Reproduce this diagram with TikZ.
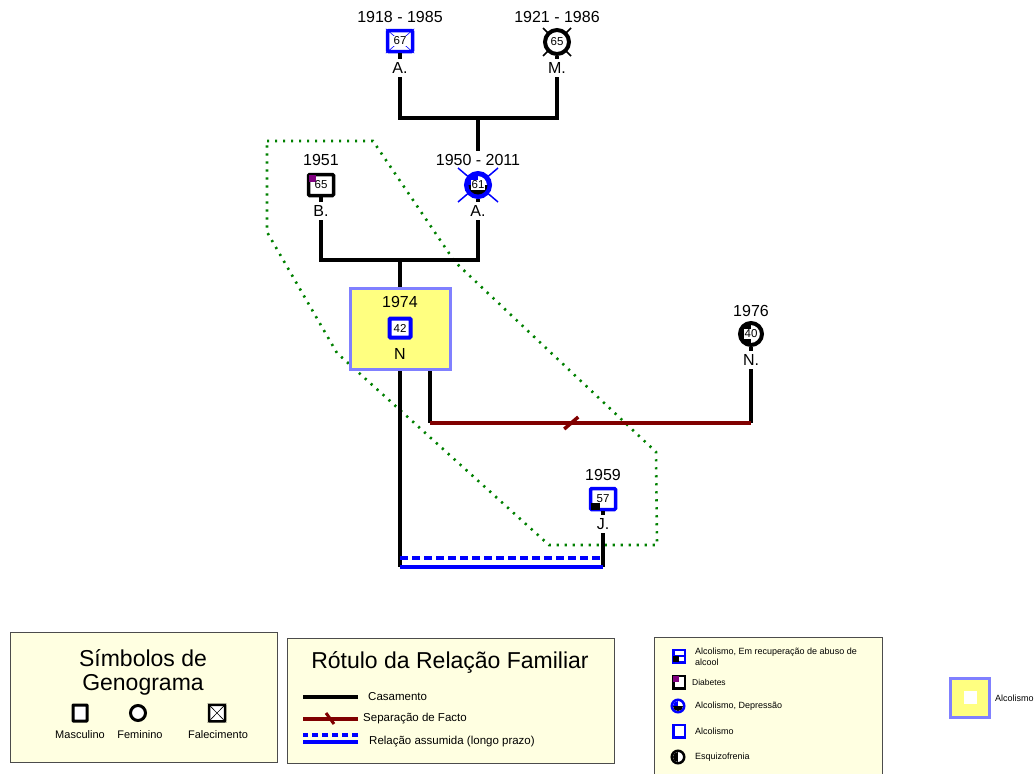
\documentclass[tikz,border=0pt]{standalone}
\usepackage{fontspec}
\setmainfont{Liberation Sans}
\usetikzlibrary{positioning}

\definecolor{blu}{RGB}{0,0,255}
\definecolor{lav}{RGB}{128,128,255}
\definecolor{nyel}{RGB}{255,255,128}
\definecolor{legy}{RGB}{255,255,225}
\definecolor{dred}{RGB}{128,0,0}
\definecolor{grn}{RGB}{0,128,0}
\definecolor{pur}{RGB}{128,0,128}

\begin{document}
\begin{tikzpicture}[x=1pt, y=-1pt,
    yr/.style={font=\fontsize{16}{18}\selectfont},
    nm/.style={font=\fontsize{16}{18}\selectfont},
    num/.style={font=\fontsize{11.5}{12}\selectfont, inner sep=0.6pt, fill=white},
    msq/.style={rectangle, draw=black, line width=3.5pt, fill=white, minimum width=25pt, minimum height=21pt, inner sep=0pt, rounded corners=1pt},
    fcirc/.style={circle, draw=black, line width=4pt, fill=white, minimum size=24pt, inner sep=0pt},
    ssq/.style={rectangle, draw=black, line width=2.5pt, fill=white, minimum width=11.5pt, minimum height=12.5pt, inner sep=0pt},
    scirc/.style={circle, draw=black, line width=2.5pt, fill=white, minimum size=12.5pt, inner sep=0pt},
    rel/.style={line width=4pt},
    sep/.style={line width=4pt, draw=dred},
    cohab/.style={line width=4pt, draw=blu},
    grp/.style={draw=grn, line width=2.6pt, dash pattern=on 2.2pt off 5.8pt},
    legbox/.style={draw=black!70, line width=1pt, fill=legy},
    ttl/.style={font=\fontsize{23}{26}\selectfont},
    sl/.style={font=\fontsize{11}{13}\selectfont},
    lt/.style={font=\fontsize{11.5}{13}\selectfont, anchor=west, inner sep=0pt},
    lt3/.style={font=\fontsize{9}{11}\selectfont, anchor=west, inner sep=0pt, align=left}
]
\useasboundingbox (0,0) rectangle (1034,774);

% household group
\draw[grp] (267,141) -- (373,141) -- (455,262) -- (656,452) -- (657,545)
    -- (549,545) -- (337,353) -- (267,232) -- cycle;

% grandparents
\node (ya1) [yr] at (400,17) {1918 - 1985};
\node (a1) [msq, draw=blu] at (400,41) {};
\draw[blu, line width=0.6pt] (a1.north west) -- (a1.south east) (a1.north east) -- (a1.south west);
\node (n67) [num] at (a1) {67};
\node (la1) [nm] at (400,68) {A.};
\draw[rel] (a1.south) -- (la1.north);

\node (ym1) [yr] at (557,17) {1921 - 1986};
\coordinate (m1c) at (557,42);
\draw[line width=1.5pt] (m1c) ++(-14,-14) -- ++(28,28) (m1c) ++(14,-14) -- ++(-28,28);
\node (m1) [fcirc] at (m1c) {};
\node (n65a) [num] at (m1) {65};
\node (lm1) [nm] at (557,68) {M.};
\draw[rel] (m1.south) -- (lm1.north);

\coordinate (j1) at (478,118);
\draw[rel] (la1.south) |- (j1) -| (lm1.south);

% parents
\node (yb1) [yr] at (321,160) {1951};
\node (b1) [msq] at (321,185) {};
\fill[pur] ([shift={(1.75pt,-1.75pt)}]b1.north west) rectangle ++(7,7);
\node (n65b) [num, fill=none] at (b1) {65};
\node (lb1) [nm] at (321,211) {B.};
\draw[rel] (b1.south) -- (lb1.north);

\node (ya2) [yr] at (478,160) {1950 - 2011};
\coordinate (a2c) at (478,185);
\draw[blu, line width=1.5pt] (a2c) ++(-20,-17) -- ++(40,34) (a2c) ++(20,-17) -- ++(-40,34);
\node (a2) [fcirc, draw=blu, line width=5pt, minimum size=23pt] at (a2c) {};
\begin{scope}
  \clip (a2c) circle (9.5);
  \fill[blu] (a2c) rectangle ++(-10,-10);
  \fill[black] (a2c) ++(-10,0) rectangle ++(20,10);
\end{scope}
\node (n61) [num] at (a2) {61};
\node (la2) [nm] at (478,211) {A.};
\draw[rel] (a2.south) -- (la2.north);

\draw[rel] (j1) -- (ya2.north);
\coordinate (j2) at (400,260);
\draw[rel] (lb1.south) |- (j2) -| (la2.south);

% index person
\node (nbox) [rectangle, draw=lav, line width=3pt, fill=nyel, minimum width=100pt, minimum height=81pt] at (400,329) {};
\draw[rel] (j2) -- (nbox.north);
\node (yn1) [yr] at (400,302) {1974};
\node (n1) [msq, draw=blu, line width=4pt, minimum width=21pt, minimum height=19pt] at (400,328) {};
\node (n42) [num] at (n1) {42};
\node (ln1) [nm] at (400,354) {N};

% partners
\node (yn2) [yr] at (751,311) {1976};
\node (n2) [fcirc, minimum size=22pt] at (751,334) {};
\begin{scope}
  \clip (n2.center) circle (9.5);
  \fill (n2.center) ++(-10,-10) rectangle ++(10,20);
\end{scope}
\node (n40) [num] at (n2) {40};
\node (ln2) [nm] at (751,360) {N.};
\draw[rel] (n2.south) -- (ln2.north);

\node (yj1) [yr] at (603,475) {1959};
\node (j1s) [msq, draw=blu] at (603,499) {};
\fill ([shift={(1.75pt,1.75pt)}]j1s.south west) rectangle ++(9,-7);
\node (n57) [num, fill=none] at (j1s) {57};
\node (lj1) [nm] at (603,524) {J.};
\draw[rel] (j1s.south) -- (lj1.north);

% separation
\coordinate (r1) at (430,423);
\coordinate (r2) at (751,423);
\draw[rel] (nbox.south -| r1) -- (r1);
\draw[rel] (ln2.south) -- (r2);
\draw[sep] (r1) -- (r2);
\path (r1) -- (r2) coordinate[pos=0.44] (rs);
\draw[sep, line width=3.5pt] (rs) ++(-7,6) -- ++(14,-12);

% long-term relation
\coordinate (k1) at (400,567);
\coordinate (k2) at (603,567);
\coordinate (k3) at (400,558);
\coordinate (k4) at (603,558);
\draw[rel] (nbox.south) -- (k1);
\draw[rel] (lj1.south) -- (k2);
\draw[cohab] (k1) -- (k2);
\draw[cohab, dash pattern=on 8pt off 4pt] (k3) -- (k4);

% legend: symbols
\draw[legbox] (10,632) rectangle (277,762);
\node (t1) [ttl] at (143,658) {Símbolos de};
\node (t2) [ttl] at (143,685) {Genograma};
\node (s1) [msq, line width=3pt, minimum width=14pt, minimum height=16pt, rounded corners=0.5pt] at (80,713) {};
\node (s2) [fcirc, line width=3pt, minimum size=15pt] at (138,713) {};
\node (s3) [msq, line width=2.5pt, minimum width=16pt, minimum height=16.5pt, rounded corners=0.5pt] at (217,713) {};
\draw[line width=0.6pt] (s3.north west) -- (s3.south east) (s3.north east) -- (s3.south west);
\node (s1l) [sl] at (80,735) {Masculino};
\node (s2l) [sl] at (140,735) {Feminino};
\node (s3l) [sl] at (218,735) {Falecimento};

% legend: relations
\draw[legbox] (287,638) rectangle (614,763);
\node (t3) [ttl] at (450,662) {Rótulo da Relação Familiar};
\node (lc) [lt] at (368,697) {Casamento};
\draw[rel, line width=3.5pt] ([xshift=-10pt]lc.west) -- ++(-55,0);
\node (ls) [lt] at (363,719) {Separação de Facto};
\draw[sep, line width=3.5pt] ([xshift=-5pt]ls.west) -- ++(-55,0);
\draw[sep, line width=3pt] ([xshift=-33pt]ls.west) ++(-4,-6) -- ++(8,11);
\node (lr) [lt] at (369,742) {Relação assumida (longo prazo)};
\draw[cohab, line width=3.5pt] ([xshift=-11pt]lr.west) -- ++(-55,0);
\draw[cohab, line width=3.5pt, dash pattern=on 6pt off 4pt] ([shift={(-11pt,7pt)}]lr.west) -- ++(-55,0);

% legend: conditions
\draw[legbox] (654,637) rectangle (882,790);
\node (q1) [ssq, draw=blu] at (679,656) {};
\draw[blu, line width=1.5pt] (q1.west) -- (q1.east);
\fill ([shift={(1.25pt,1.25pt)}]q1.south west) rectangle (q1.center);
\node (q1t) [lt3] at (695,656.5) {Alcolismo, Em recuperação de abuso de\\alcool};
\node (q2) [ssq] at (679,682) {};
\fill[pur] ([shift={(1.25pt,-1.25pt)}]q2.north west) rectangle (q2.center);
\node (q2t) [lt3, font=\fontsize{8.5}{10}\selectfont] at (692,682) {Diabetes};
\node (q3) [scirc, draw=blu] at (678,706) {};
\begin{scope}
  \clip (q3.center) circle (5);
  \fill[blu] (q3.center) rectangle ++(-6,-6);
  \fill (q3.center) ++(-6,0) rectangle ++(12,6);
\end{scope}
\node (q3t) [lt3] at (695,706) {Alcolismo, Depressão};
\node (q4) [ssq, draw=blu] at (679,731) {};
\node (q4t) [lt3] at (695,731) {Alcolismo};
\node (q5) [scirc] at (678,757) {};
\begin{scope}
  \clip (q5.center) circle (5);
  \fill (q5.center) ++(-6,-6) rectangle ++(6,12);
\end{scope}
\node (q5t) [lt3] at (695,757) {Esquizofrenia};

% legend: household
\node (y4) [rectangle, draw=lav, line width=3pt, fill=nyel, minimum size=39pt] at (970,697.5) {};
\node (y4i) [rectangle, fill=white, minimum size=13pt, inner sep=0pt] at (y4) {};
\node (y4t) [lt3] at (995,698) {Alcolismo};
\end{tikzpicture}
\end{document}
